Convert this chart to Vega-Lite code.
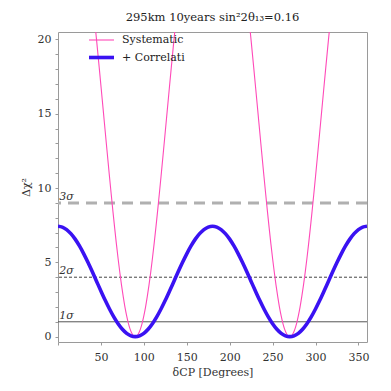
{
  "$schema": "https://vega.github.io/schema/vega-lite/v6.json",
  "autosize": {"type": "none"},
  "padding": {"left": 58, "top": 32, "right": 24, "bottom": 49},
  "width": 309,
  "height": 310,
  "config": {
    "font": "DejaVu Serif",
    "view": {"stroke": "#9a9a9a", "strokeWidth": 1},
    "axis": {"labelFont": "DejaVu Serif", "titleFont": "DejaVu Serif", "labelFontSize": 11, "titleFontSize": 11, "labelColor": "#333", "titleColor": "#333", "titleFontWeight": "normal", "domainColor": "#9a9a9a", "tickColor": "#9a9a9a", "grid": false, "labelOverlap": false, "tickSize": 3, "domain": false},
    "axisX": {"values": [0,10,20,30,40,50,60,70,80,90,100,110,120,130,140,150,160,170,180,190,200,210,220,230,240,250,260,270,280,290,300,310,320,330,340,350,360], "labelExpr": "datum.value % 50 === 0 && datum.value > 0 && datum.value < 360 ? datum.label : ''", "labelPadding": 6, "titlePadding": 4, "labelFlush": false},
    "axisY": {"values": [0,1,2,3,4,5,6,7,8,9,10,11,12,13,14,15,16,17,18,19,20], "tickCount": 21, "labelExpr": "datum.value % 5 === 0 ? datum.label : ''", "labelPadding": 4, "titlePadding": 6},
    "legend": {"labelFont": "DejaVu Serif"},
    "text": {"font": "DejaVu Serif"}
  },
  "title": {"text": "295km 10years sin²2θ₁₃=0.16", "font": "DejaVu Serif", "fontSize": 11.5, "fontWeight": "normal", "color": "#222", "offset": 9},
  "datasets": {
    "levels": [
      {"level": 1, "lab": "1σ"},
      {"level": 4, "lab": "2σ"},
      {"level": 9, "lab": "3σ"}
    ],
    "syst": [
      {"d":0,"chi":34.66},{"d":10,"chi":33.88},{"d":20,"chi":31.57},{"d":30,"chi":27.80},{"d":38,"chi":23.88},{"d":42,"chi":21.66},{"d":45,"chi":19.92},{"d":48,"chi":18.12},{"d":51,"chi":16.28},{"d":54,"chi":14.43},{"d":57,"chi":12.58},{"d":60,"chi":10.76},{"d":62,"chi":9.58},{"d":64,"chi":8.43},{"d":66,"chi":7.32},{"d":68,"chi":6.26},{"d":70,"chi":5.26},{"d":72,"chi":4.33},{"d":74,"chi":3.47},{"d":76,"chi":2.69},{"d":78,"chi":1.99},{"d":80,"chi":1.40},{"d":82,"chi":0.90},{"d":84,"chi":0.51},{"d":86,"chi":0.23},{"d":88,"chi":0.06},{"d":90,"chi":0},
      {"d":92,"chi":0.06},{"d":94,"chi":0.23},{"d":96,"chi":0.51},{"d":98,"chi":0.90},{"d":100,"chi":1.40},{"d":102,"chi":1.99},{"d":104,"chi":2.69},{"d":106,"chi":3.47},{"d":108,"chi":4.33},{"d":110,"chi":5.26},{"d":112,"chi":6.26},{"d":114,"chi":7.32},{"d":116,"chi":8.43},{"d":118,"chi":9.58},{"d":120,"chi":10.76},{"d":123,"chi":12.58},{"d":126,"chi":14.43},{"d":129,"chi":16.28},{"d":132,"chi":18.12},{"d":135,"chi":19.92},{"d":138,"chi":21.66},{"d":142,"chi":23.88},{"d":150,"chi":27.80},{"d":160,"chi":31.57},{"d":170,"chi":33.88},{"d":180,"chi":34.66},
      {"d":190,"chi":33.88},{"d":200,"chi":31.57},{"d":210,"chi":27.80},{"d":218,"chi":23.88},{"d":222,"chi":21.66},{"d":225,"chi":19.92},{"d":228,"chi":18.12},{"d":231,"chi":16.28},{"d":234,"chi":14.43},{"d":237,"chi":12.58},{"d":240,"chi":10.76},{"d":242,"chi":9.58},{"d":244,"chi":8.43},{"d":246,"chi":7.32},{"d":248,"chi":6.26},{"d":250,"chi":5.26},{"d":252,"chi":4.33},{"d":254,"chi":3.47},{"d":256,"chi":2.69},{"d":258,"chi":1.99},{"d":260,"chi":1.40},{"d":262,"chi":0.90},{"d":264,"chi":0.51},{"d":266,"chi":0.23},{"d":268,"chi":0.06},{"d":270,"chi":0},
      {"d":272,"chi":0.06},{"d":274,"chi":0.23},{"d":276,"chi":0.51},{"d":278,"chi":0.90},{"d":280,"chi":1.40},{"d":282,"chi":1.99},{"d":284,"chi":2.69},{"d":286,"chi":3.47},{"d":288,"chi":4.33},{"d":290,"chi":5.26},{"d":292,"chi":6.26},{"d":294,"chi":7.32},{"d":296,"chi":8.43},{"d":298,"chi":9.58},{"d":300,"chi":10.76},{"d":303,"chi":12.58},{"d":306,"chi":14.43},{"d":309,"chi":16.28},{"d":312,"chi":18.12},{"d":315,"chi":19.92},{"d":318,"chi":21.66},{"d":322,"chi":23.88},{"d":330,"chi":27.80},{"d":340,"chi":31.57},{"d":350,"chi":33.88},{"d":360,"chi":34.66}
    ],
    "corr": [
      {"d":0,"chi":7.43},{"d":5,"chi":7.374},{"d":10,"chi":7.206},{"d":15,"chi":6.932},{"d":20,"chi":6.561},{"d":25,"chi":6.103},{"d":30,"chi":5.573},{"d":35,"chi":4.986},{"d":40,"chi":4.360},{"d":45,"chi":3.715},{"d":50,"chi":3.070},{"d":55,"chi":2.444},{"d":60,"chi":1.858},{"d":65,"chi":1.327},{"d":70,"chi":0.869},{"d":75,"chi":0.498},{"d":80,"chi":0.224},{"d":85,"chi":0.056},{"d":90,"chi":0},
      {"d":95,"chi":0.056},{"d":100,"chi":0.224},{"d":105,"chi":0.498},{"d":110,"chi":0.869},{"d":115,"chi":1.327},{"d":120,"chi":1.858},{"d":125,"chi":2.444},{"d":130,"chi":3.070},{"d":135,"chi":3.715},{"d":140,"chi":4.360},{"d":145,"chi":4.986},{"d":150,"chi":5.573},{"d":155,"chi":6.103},{"d":160,"chi":6.561},{"d":165,"chi":6.932},{"d":170,"chi":7.206},{"d":175,"chi":7.374},{"d":180,"chi":7.43},
      {"d":185,"chi":7.374},{"d":190,"chi":7.206},{"d":195,"chi":6.932},{"d":200,"chi":6.561},{"d":205,"chi":6.103},{"d":210,"chi":5.573},{"d":215,"chi":4.986},{"d":220,"chi":4.360},{"d":225,"chi":3.715},{"d":230,"chi":3.070},{"d":235,"chi":2.444},{"d":240,"chi":1.858},{"d":245,"chi":1.327},{"d":250,"chi":0.869},{"d":255,"chi":0.498},{"d":260,"chi":0.224},{"d":265,"chi":0.056},{"d":270,"chi":0},
      {"d":275,"chi":0.056},{"d":280,"chi":0.224},{"d":285,"chi":0.498},{"d":290,"chi":0.869},{"d":295,"chi":1.327},{"d":300,"chi":1.858},{"d":305,"chi":2.444},{"d":310,"chi":3.070},{"d":315,"chi":3.715},{"d":320,"chi":4.360},{"d":325,"chi":4.986},{"d":330,"chi":5.573},{"d":335,"chi":6.103},{"d":340,"chi":6.561},{"d":345,"chi":6.932},{"d":350,"chi":7.206},{"d":355,"chi":7.374},{"d":360,"chi":7.43}
    ]
  },
  "layer": [
    {
      "data": {"name": "levels"},
      "transform": [{"filter": "datum.level === 9"}],
      "mark": {"type": "rule", "color": "#b0b0b0", "strokeWidth": 3, "strokeDash": [11, 7]},
      "encoding": {"y": {"field": "level", "type": "quantitative", "title": "Δχ²", "scale": {"domain": [-0.36, 20.5], "nice": false, "zero": false}, "axis": {"values": [0,1,2,3,4,5,6,7,8,9,10,11,12,13,14,15,16,17,18,19,20], "tickCount": 21, "labelExpr": "datum.value % 5 === 0 ? datum.label : ''"}}}
    },
    {
      "data": {"name": "levels"},
      "transform": [{"filter": "datum.level === 4"}],
      "mark": {"type": "rule", "color": "#444", "strokeWidth": 1, "strokeDash": [3, 2]},
      "encoding": {"y": {"field": "level", "type": "quantitative", "title": "Δχ²", "axis": {"values": [0,1,2,3,4,5,6,7,8,9,10,11,12,13,14,15,16,17,18,19,20], "tickCount": 21, "labelExpr": "datum.value % 5 === 0 ? datum.label : ''"}}}
    },
    {
      "data": {"name": "levels"},
      "transform": [{"filter": "datum.level === 1"}],
      "mark": {"type": "rule", "color": "#555", "strokeWidth": 1},
      "encoding": {"y": {"field": "level", "type": "quantitative", "title": "Δχ²", "axis": {"values": [0,1,2,3,4,5,6,7,8,9,10,11,12,13,14,15,16,17,18,19,20], "tickCount": 21, "labelExpr": "datum.value % 5 === 0 ? datum.label : ''"}}}
    },
    {
      "data": {"name": "levels"},
      "mark": {"type": "text", "align": "left", "baseline": "bottom", "dy": -1, "fontSize": 11, "fontStyle": "italic", "color": "#333"},
      "encoding": {"y": {"field": "level", "type": "quantitative", "title": "Δχ²", "axis": {"values": [0,1,2,3,4,5,6,7,8,9,10,11,12,13,14,15,16,17,18,19,20], "tickCount": 21, "labelExpr": "datum.value % 5 === 0 ? datum.label : ''"}}, "x": {"datum": 1.5, "type": "quantitative", "title": "δCP [Degrees]"}, "text": {"field": "lab", "type": "nominal"}}
    },
    {
      "data": {"name": "syst"},
      "transform": [{"calculate": "'Systematic'", "as": "s"}],
      "mark": {"type": "line", "clip": true, "interpolate": "monotone"},
      "encoding": {
        "x": {"field": "d", "type": "quantitative", "title": "δCP [Degrees]", "scale": {"domain": [0, 360], "nice": false, "zero": false}},
        "y": {"field": "chi", "type": "quantitative", "title": "Δχ²", "axis": {"values": [0,1,2,3,4,5,6,7,8,9,10,11,12,13,14,15,16,17,18,19,20], "tickCount": 21, "labelExpr": "datum.value % 5 === 0 ? datum.label : ''"}},
        "color": {"field": "s", "type": "nominal", "scale": {"domain": ["Systematic", "+ Correlati"], "range": ["#ff4ab8", "#3a12f2"]},
          "legend": {"title": null, "orient": "none", "legendX": 35, "legendY": 1, "symbolType": "M-2,0H2", "symbolSize": 156, "labelFontSize": 11, "labelColor": "#222", "labelOffset": 12, "rowPadding": 4, "padding": 0}},
        "strokeWidth": {"field": "s", "type": "nominal", "scale": {"domain": ["Systematic", "+ Correlati"], "range": [1.1, 3.6]}, "legend": null}
      }
    },
    {
      "data": {"name": "corr"},
      "transform": [{"calculate": "'+ Correlati'", "as": "s"}],
      "mark": {"type": "line", "clip": true, "interpolate": "monotone"},
      "encoding": {
        "x": {"field": "d", "type": "quantitative", "title": "δCP [Degrees]"},
        "y": {"field": "chi", "type": "quantitative", "title": "Δχ²", "axis": {"values": [0,1,2,3,4,5,6,7,8,9,10,11,12,13,14,15,16,17,18,19,20], "tickCount": 21, "labelExpr": "datum.value % 5 === 0 ? datum.label : ''"}},
        "color": {"field": "s", "type": "nominal"},
        "strokeWidth": {"field": "s", "type": "nominal", "legend": null}
      }
    }
  ]
}
